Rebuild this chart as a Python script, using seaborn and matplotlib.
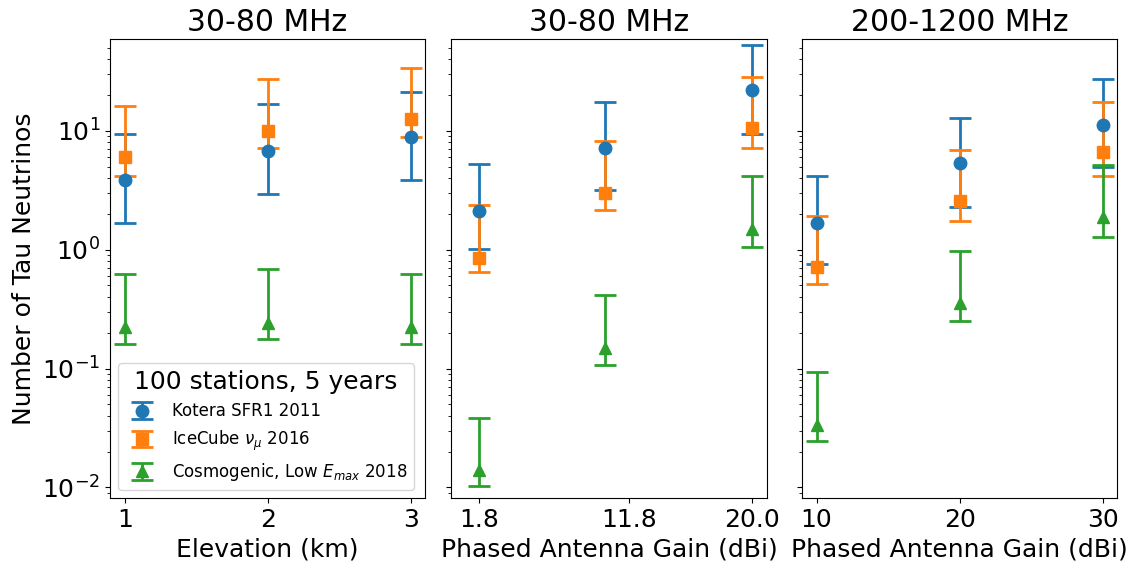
import matplotlib
matplotlib.use("Agg")
import matplotlib.pyplot as plt
import seaborn as sns

# panel x values
elevation = [1, 2, 3]
gain_low = [1.8, 10.2, 20.0]
gain_low_ticks = [1.8, 11.8, 20.0]
gain_high = [10, 20, 30]

titles = ["30-80 MHz", "30-80 MHz", "200-1200 MHz"]
xlabels = ["Elevation (km)", "Phased Antenna Gain (dBi)", "Phased Antenna Gain (dBi)"]
models = ["Kotera SFR1 2011", r"IceCube $\nu_\mu$ 2016", r"Cosmogenic, Low $E_{max}$ 2018"]
markers = ["o", "s", "^"]

# value, lower bound, upper bound (per panel, per model)
kotera_elev = [3.86, 6.81, 8.84]
kotera_elev_lo = [1.67, 2.96, 3.84]
kotera_elev_hi = [9.36, 16.7, 21.4]
icecube_elev = [6.06, 10.0, 12.5]
icecube_elev_lo = [4.2, 7.13, 8.94]
icecube_elev_hi = [16.3, 27.3, 33.8]
cosmo_elev = [0.225, 0.243, 0.225]
cosmo_elev_lo = [0.161, 0.177, 0.161]
cosmo_elev_hi = [0.62, 0.684, 0.62]

kotera_low = [2.12, 7.22, 22.0]
kotera_low_lo = [1.01, 3.16, 9.42]
kotera_low_hi = [5.24, 17.6, 53.2]
icecube_low = [0.847, 3.0, 10.6]
icecube_low_lo = [0.645, 2.17, 7.22]
icecube_low_hi = [2.36, 8.22, 28.4]
cosmo_low = [0.014, 0.148, 1.49]
cosmo_low_lo = [0.0103, 0.108, 1.05]
cosmo_low_hi = [0.0385, 0.413, 4.15]

kotera_high = [1.69, 5.34, 11.2]
kotera_high_lo = [0.753, 2.29, 4.94]
kotera_high_hi = [4.15, 12.9, 27.3]
icecube_high = [0.711, 2.57, 6.64]
icecube_high_lo = [0.511, 1.73, 4.2]
icecube_high_hi = [1.93, 6.9, 17.6]
cosmo_high = [0.0334, 0.354, 1.87]
cosmo_high_lo = [0.0245, 0.25, 1.29]
cosmo_high_hi = [0.094, 0.975, 5.13]

panels = [
    (elevation, [(kotera_elev, kotera_elev_lo, kotera_elev_hi),
                 (icecube_elev, icecube_elev_lo, icecube_elev_hi),
                 (cosmo_elev, cosmo_elev_lo, cosmo_elev_hi)]),
    (gain_low, [(kotera_low, kotera_low_lo, kotera_low_hi),
                (icecube_low, icecube_low_lo, icecube_low_hi),
                (cosmo_low, cosmo_low_lo, cosmo_low_hi)]),
    (gain_high, [(kotera_high, kotera_high_lo, kotera_high_hi),
                 (icecube_high, icecube_high_lo, icecube_high_hi),
                 (cosmo_high, cosmo_high_lo, cosmo_high_hi)]),
]

colors = sns.color_palette("tab10", 3)
plt.rcParams["font.family"] = ["DejaVu Sans"]

fig = plt.figure(figsize=(11.37, 5.68), dpi=100)
lefts = [0.0967, 0.3964, 0.7056]
widths = [0.2771, 0.2785, 0.2768]
axes = []
for i in range(3):
    ax = fig.add_axes([lefts[i], 0.1227, widths[i], 0.8086],
                      sharey=axes[0] if axes else None)
    axes.append(ax)

for i, (ax, (xs, series)) in enumerate(zip(axes, panels)):
    for j, (vals, lo, hi) in enumerate(series):
        err = [[v - l for v, l in zip(vals, lo)], [h - v for v, h in zip(vals, hi)]]
        ax.errorbar(xs, vals, yerr=err, fmt=markers[j], color=colors[j],
                    markersize=9, elinewidth=2, capsize=8, capthick=2,
                    label=models[j])
    ax.set_yscale("log")
    ax.set_title(titles[i], fontsize=21.5)
    ax.set_xlabel(xlabels[i], fontsize=18)
    ax.tick_params(axis="both", labelsize=18)
    if i > 0:
        ax.tick_params(axis="y", labelleft=False)

axes[0].set_xticks(elevation)
axes[0].set_xlim(0.895, 3.1)
axes[1].set_xticks(gain_low_ticks)
axes[1].set_xticklabels([f"{g:.1f}" for g in gain_low_ticks])
axes[1].set_xlim(-0.1, 21.0)
axes[2].set_xticks(gain_high)
axes[2].set_xlim(9.0, 31.0)
axes[0].set_ylim(0.00808, 59.4)

axes[0].set_ylabel("Number of Tau Neutrinos", fontsize=18)
leg = axes[0].legend(loc="lower left", fontsize=12, title="100 stations, 5 years",
                     title_fontsize=18)

fig.savefig("out.png", dpi=100)
